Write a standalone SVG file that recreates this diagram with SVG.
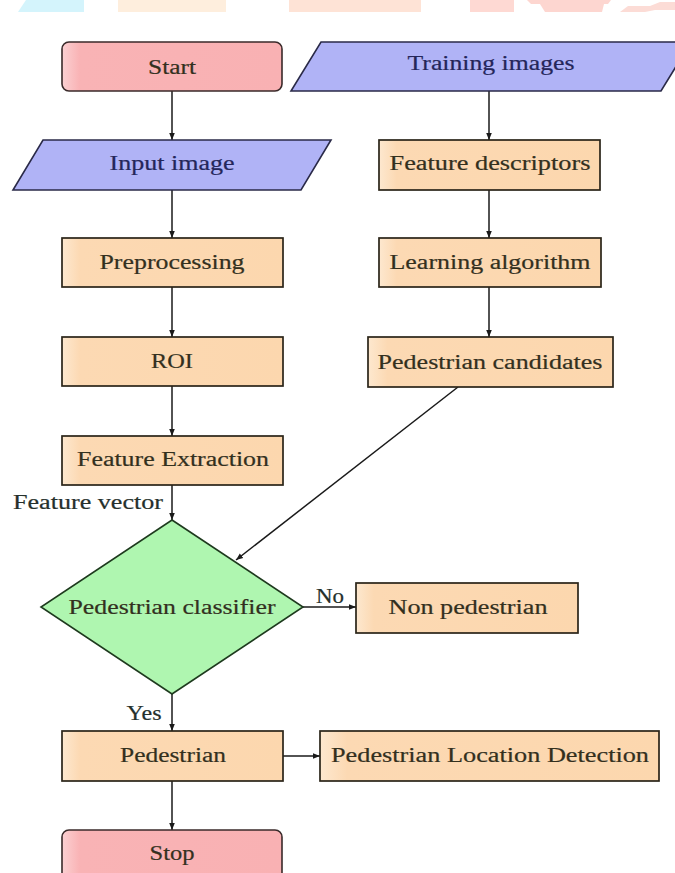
<svg xmlns="http://www.w3.org/2000/svg" width="675" height="873" viewBox="0 0 675 873">
<defs>
<linearGradient id="gOr" x1="0" y1="0" x2="1" y2="0">
<stop offset="0" stop-color="#fde8cf"/><stop offset="0.08" stop-color="#fcd9b3"/><stop offset="1" stop-color="#fcd7ae"/>
</linearGradient>
<linearGradient id="gPk" x1="0" y1="0" x2="1" y2="0">
<stop offset="0" stop-color="#fbd0d2"/><stop offset="0.08" stop-color="#f9b3b5"/><stop offset="1" stop-color="#f9b1b3"/>
</linearGradient>
<marker id="ah" viewBox="0 0 10 10" refX="10" refY="5" markerWidth="7" markerHeight="7" markerUnits="userSpaceOnUse" orient="auto">
<path d="M0,1 L10,5 L0,9 Z" fill="#1a1a1a"/>
</marker>
</defs>
<style>
.box{fill:url(#gOr);stroke:#2a2418;stroke-width:1.7}
.term{fill:url(#gPk);stroke:#3a2a2a;stroke-width:1.6}
.io{fill:#b0b3f6;stroke:#2a2a48;stroke-width:1.6}
.dec{fill:#aff6b0;stroke:#1e3a1e;stroke-width:1.6}
.t{font-family:"Liberation Serif","Times New Roman",serif;font-size:20px;fill:#33301e;stroke:#33301e;stroke-width:0.2;text-anchor:middle;dominant-baseline:central}
.tb{fill:#24265a;stroke:#24265a}
.tl{fill:#25302c;stroke:#25302c}
.c{stroke:#1a1a1a;stroke-width:1.5;fill:none;marker-end:url(#ah)}
</style>
<rect width="675" height="873" fill="#ffffff"/>
<g id="watermark">
<polygon points="26,0 84,0 84,12 18,12" fill="#d4f4fc"/>
<rect x="118" y="0" width="108" height="12" fill="#feeedd"/>
<rect x="289" y="0" width="132" height="12" fill="#fee3d6"/>
<rect x="470" y="0" width="44" height="12" fill="#fed9d3"/>
<polygon points="527,0 611,0 608,4 604,4 602,12 545,12 540,4 531,4" fill="#fdd6d0"/>
<polygon points="620,12 628,6 650,6 660,2 675,2 675,10 655,10 645,12" fill="#fcdcd6"/>
</g>
<g id="connectors">
<line class="c" x1="172" y1="91" x2="172" y2="140"/>
<line class="c" x1="489" y1="91" x2="489" y2="140"/>
<line class="c" x1="172" y1="190" x2="172" y2="238"/>
<line class="c" x1="489" y1="190" x2="489" y2="238"/>
<line class="c" x1="172" y1="287" x2="172" y2="337"/>
<line class="c" x1="489" y1="287" x2="489" y2="337"/>
<line class="c" x1="172" y1="386" x2="172" y2="436"/>
<line class="c" x1="458" y1="387" x2="236" y2="560"/>
<line class="c" x1="172" y1="485" x2="172" y2="520"/>
<line class="c" x1="303" y1="607" x2="356" y2="607"/>
<line class="c" x1="172" y1="694" x2="172" y2="731"/>
<line class="c" x1="283" y1="756" x2="320" y2="756"/>
<line class="c" x1="172" y1="781" x2="172" y2="830"/>
<text class="t tl" x="88" y="502" textLength="150" lengthAdjust="spacingAndGlyphs">Feature vector</text>
<text class="t tl" x="330" y="596" textLength="28" lengthAdjust="spacingAndGlyphs">No</text>
<text class="t tl" x="144" y="713" textLength="35" lengthAdjust="spacingAndGlyphs">Yes</text>
</g>
<g id="start">
<rect class="term" x="62" y="42" width="220" height="49" rx="7"/>
<text class="t" x="172" y="67" textLength="48" lengthAdjust="spacingAndGlyphs">Start</text>
</g>
<g id="training">
<polygon class="io" points="321,42 691,42 661,91 291,91"/>
<text class="t tb" x="491" y="63" textLength="167" lengthAdjust="spacingAndGlyphs">Training images</text>
</g>
<g id="input">
<polygon class="io" points="43,140 331,140 301,190 13,190"/>
<text class="t tb" x="172" y="163" textLength="125" lengthAdjust="spacingAndGlyphs">Input image</text>
</g>
<g id="featdesc">
<rect class="box" x="379" y="140" width="221" height="50"/>
<text class="t" x="490" y="163" textLength="201" lengthAdjust="spacingAndGlyphs">Feature descriptors</text>
</g>
<g id="preproc">
<rect class="box" x="62" y="238" width="221" height="49"/>
<text class="t" x="172" y="262" textLength="145" lengthAdjust="spacingAndGlyphs">Preprocessing</text>
</g>
<g id="learning">
<rect class="box" x="379" y="238" width="222" height="49"/>
<text class="t" x="490" y="262" textLength="201" lengthAdjust="spacingAndGlyphs">Learning algorithm</text>
</g>
<g id="roi">
<rect class="box" x="62" y="337" width="221" height="49"/>
<text class="t" x="172" y="361" textLength="42" lengthAdjust="spacingAndGlyphs">ROI</text>
</g>
<g id="candidates">
<rect class="box" x="368" y="337" width="245" height="50"/>
<text class="t" x="490" y="362" textLength="225" lengthAdjust="spacingAndGlyphs">Pedestrian candidates</text>
</g>
<g id="featext">
<rect class="box" x="62" y="436" width="221" height="49"/>
<text class="t" x="173" y="459" textLength="192" lengthAdjust="spacingAndGlyphs">Feature Extraction</text>
</g>
<g id="classifier">
<polygon class="dec" points="172,520 303,607 172,694 41,607"/>
<text class="t" x="172" y="607" textLength="207" lengthAdjust="spacingAndGlyphs">Pedestrian classifier</text>
</g>
<g id="nonped">
<rect class="box" x="356" y="583" width="222" height="50"/>
<text class="t" x="468" y="607" textLength="159" lengthAdjust="spacingAndGlyphs">Non pedestrian</text>
</g>
<g id="pedestrian">
<rect class="box" x="62" y="731" width="221" height="50"/>
<text class="t" x="173" y="755" textLength="106" lengthAdjust="spacingAndGlyphs">Pedestrian</text>
</g>
<g id="location">
<rect class="box" x="320" y="731" width="339" height="50"/>
<text class="t" x="490" y="755" textLength="318" lengthAdjust="spacingAndGlyphs">Pedestrian Location Detection</text>
</g>
<g id="stop">
<rect class="term" x="62" y="830" width="220" height="60" rx="7"/>
<text class="t" x="172" y="853" textLength="45" lengthAdjust="spacingAndGlyphs">Stop</text>
</g>
</svg>
